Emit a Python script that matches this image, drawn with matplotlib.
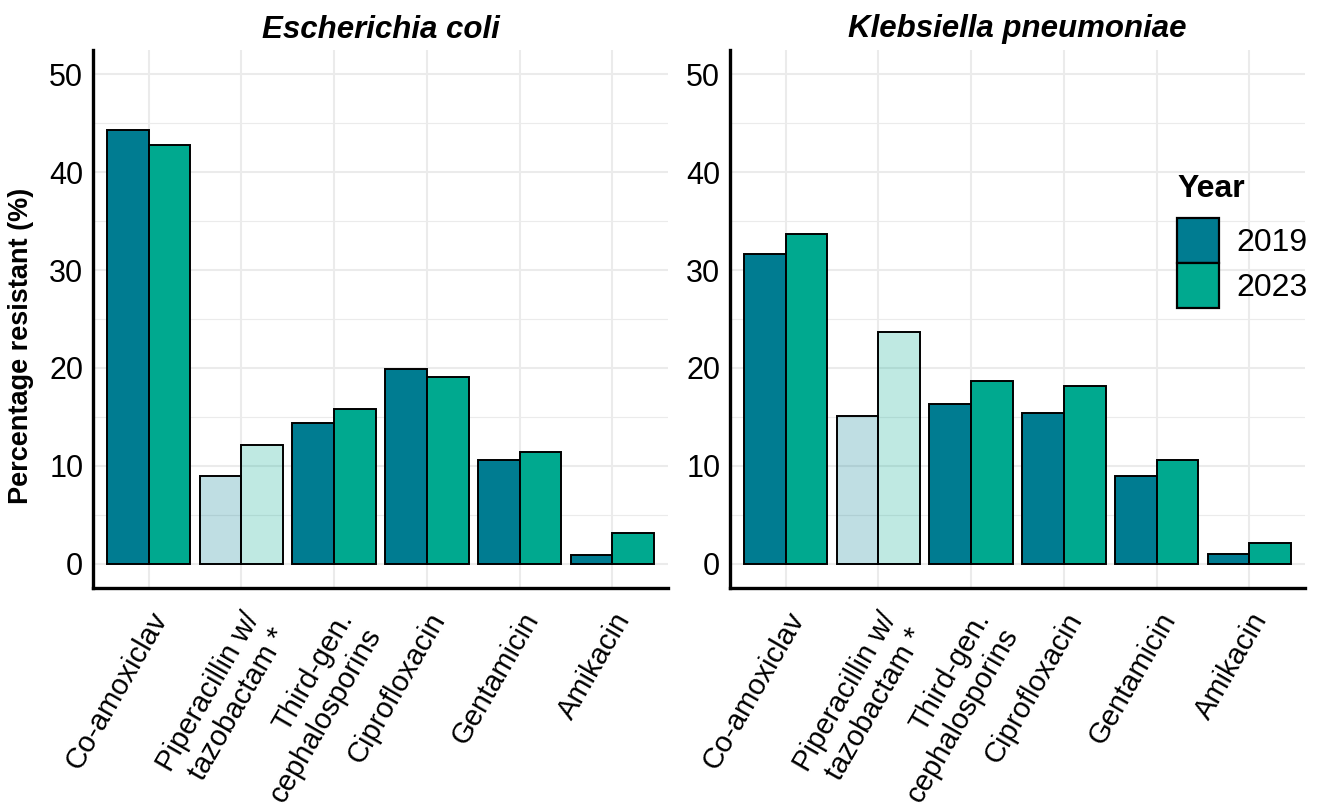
import matplotlib
matplotlib.use("Agg")
import matplotlib.pyplot as plt
import numpy as np
from matplotlib.patches import Patch
from matplotlib.ticker import MultipleLocator

plt.rcParams['font.family'] = ['Liberation Sans', 'DejaVu Sans']

antibiotics = ["Co-amoxiclav", "Piperacillin w/\ntazobactam *", "Third-gen.\ncephalosporins",
               "Ciprofloxacin", "Gentamicin", "Amikacin"]
years = ["2019", "2023"]
organisms = ["Escherichia coli", "Klebsiella pneumoniae"]

ecoli_2019 = [44.3, 9.0, 14.4, 19.9, 10.6, 0.85]
ecoli_2023 = [42.8, 12.1, 15.8, 19.1, 11.4, 3.1]
kpneu_2019 = [31.6, 15.1, 16.3, 15.4, 8.9, 1.0]
kpneu_2023 = [33.7, 23.7, 18.7, 18.2, 10.6, 2.1]
faded = [False, True, False, False, False, False]

data = {organisms[0]: [ecoli_2019, ecoli_2023], organisms[1]: [kpneu_2019, kpneu_2023]}
colors = {"2019": "#007C91", "2023": "#00A98F"}

W, H = 1320, 811
fig = plt.figure(figsize=(W / 100, H / 100), dpi=100)

def rgba(hexc, a):
    c = matplotlib.colors.to_rgba(hexc)
    return (c[0], c[1], c[2], a)

axes_px = [(93, 668), (730, 1305)]
top_px, bot_px = 50, 588
for k, org in enumerate(organisms):
    l, r = axes_px[k]
    ax = fig.add_axes([l / W, 1 - bot_px / H, (r - l) / W, (bot_px - top_px) / H])
    x = np.arange(1, len(antibiotics) + 1)
    bw = 0.45
    for j, yr in enumerate(years):
        vals = data[org][j]
        fcs = [rgba(colors[yr], 0.25 if f else 1.0) for f in faded]
        ax.bar(x + (j - 0.5) * bw, vals, width=bw, color=fcs, edgecolor="black",
               linewidth=1.4, zorder=3)
    ax.set_xlim(0.4, len(antibiotics) + 0.6)
    ax.set_ylim(-2.5, 52.5)
    ax.yaxis.set_major_locator(MultipleLocator(10))
    ax.yaxis.set_minor_locator(MultipleLocator(5))
    ax.set_yticks([0, 10, 20, 30, 40, 50])
    ax.set_xticks(x)
    ax.set_xticklabels(antibiotics, rotation=60, ha="right", va="top",
                       rotation_mode="anchor", fontsize=21)
    ax.tick_params(axis="both", which="both", length=0, colors="black")
    ax.tick_params(axis="y", labelsize=22, pad=7)
    ax.tick_params(axis="x", pad=14)
    ax.grid(which="major", color="#EBEBEB", linewidth=1.5, zorder=0)
    ax.grid(which="minor", axis="y", color="#EBEBEB", linewidth=0.8, zorder=0)
    ax.set_axisbelow(True)
    for s in ["top", "right"]:
        ax.spines[s].set_visible(False)
    for s in ["left", "bottom"]:
        ax.spines[s].set_linewidth(2.4)
        ax.spines[s].set_color("black")
    ax.set_title(org, fontsize=22.5, fontweight="bold", fontstyle="italic", pad=9)
    if k == 0:
        ax.set_ylabel("Percentage resistant (%)", fontsize=19.5, fontweight="bold")
        ax.yaxis.set_label_coords((34 - l) / (r - l), (bot_px - 346) / (bot_px - top_px))

handles = [Patch(facecolor=colors[y], edgecolor="black", linewidth=1.6, label=y) for y in years]
leg = fig.legend(handles=handles, title="Year", loc="upper left",
                 bbox_to_anchor=(1177 / W, 1 - 174 / H), frameon=False, fontsize=23,
                 title_fontproperties={"weight": "bold", "size": 23},
                 handlelength=1.3, handleheight=1.79, labelspacing=0.0,
                 handletextpad=0.55, borderpad=0, borderaxespad=0)
leg._legend_box.align = "left"
leg._legend_box.sep = 10

fig.savefig("out.png", dpi=100, facecolor="white")
